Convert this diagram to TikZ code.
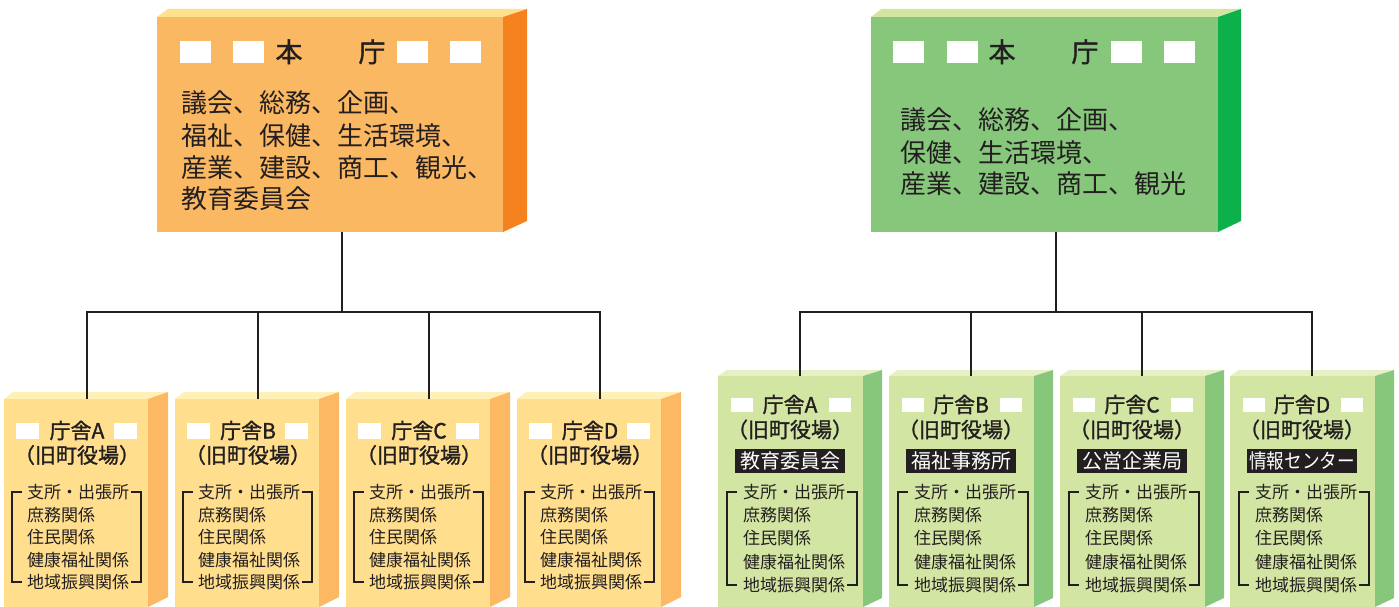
\documentclass[tikz,border=0pt]{standalone}
\usepackage{fontspec}
\usepackage{graphicx}
\setmainfont{Noto Sans CJK JP}
\newfontfamily\jpm{Noto Sans CJK JP}[FakeBold=1.3]
\definecolor{ink}{HTML}{231F20}
\definecolor{orF}{HTML}{FBB862}
\definecolor{orT}{HTML}{FFE08C}
\definecolor{orS}{HTML}{F5821F}
\definecolor{grF}{HTML}{86C77C}
\definecolor{grT}{HTML}{D6E4A2}
\definecolor{grS}{HTML}{0DB14B}
\definecolor{ylF}{HTML}{FFDE8E}
\definecolor{ylT}{HTML}{FFF0B5}
\definecolor{ylS}{HTML}{FDB864}
\definecolor{lgF}{HTML}{D3E5A3}
\definecolor{lgT}{HTML}{E6EFC6}
\definecolor{lgS}{HTML}{86C77C}
% #1 x, #2 y (front top-left), #3 w, #4 h, #5 side width, #6 rise, #7 front, #8 top, #9 side
\newcommand\blockbox[9]{%
  \fill[#8] (#1,#2) -- ({#1+0.45*#5},{#2-#6}) -- ({#1+#3+#5},{#2-#6}) -- ({#1+#3},#2) -- cycle;
  \fill[#9] ({#1+#3},#2) -- ({#1+#3+#5},{#2-#6}) -- ({#1+#3+#5},{#2+#4-#6-3}) -- ({#1+#3},{#2+#4}) -- cycle;
  \fill[#7] (#1,#2) rectangle ({#1+#3},{#2+#4});
}
\newcommand\lowL[3]{%
  \fill[white] ({#1+12},423) rectangle ({#1+35},439);
  \fill[white] ({#1+110},423) rectangle ({#1+133},439);
  \node[subttl] (#3t) at ({#1+73},438.5) {庁舎#2};
  \node[subttl] (#3s) at ({#1+73},463) {（旧町役場）};
  \foreach \t [count=\i] in {支所・出張所,庶務関係,住民関係,健康福祉関係,地域振興関係}
    \node[lst] (#3l\i) at ({#1+23},{498.5+(\i-1)*22.5}) {\t};
  \draw[brk] ({#1+18},492) -| ({#1+8},582) -- ({#1+18},582);
  \draw[brk] ({#1+127},492) -| ({#1+137},582) -- ({#1+127},582);
}
\newcommand\lowR[4]{%
  \fill[white] ({#1+13},398) rectangle ({#1+35},412);
  \fill[white] ({#1+111},398) rectangle ({#1+133},412);
  \node[subttl] (#3t) at ({#1+72},412.5) {庁舎#2};
  \node[subttl] (#3s) at ({#1+72},437.5) {（旧町役場）};
  \node[lbl] (#3b) at ({#1+72},461) {#4};
  \foreach \t [count=\i] in {支所・出張所,庶務関係,住民関係,健康福祉関係,地域振興関係}
    \node[lst] (#3l\i) at ({#1+25},{498.5+(\i-1)*23.2}) {\t};
  \draw[brk] ({#1+19},492) -| ({#1+9},585) -- ({#1+19},585);
  \draw[brk] ({#1+129},492) -| ({#1+139},585) -- ({#1+129},585);
}
\begin{document}
\begin{tikzpicture}[x=1pt,y=-1pt,
  conn/.style={line width=2pt, draw=ink},
  brk/.style={line width=1.5pt, draw=ink},
  area/.style={inner sep=0pt, outer sep=0pt, draw=none},
  hqtxt/.style={font=\fontsize{26}{32}\selectfont, text=ink, inner sep=0pt, anchor=base west},
  hqttl/.style={font=\jpm\fontsize{27}{32}\selectfont, text=ink, inner sep=0pt, anchor=base},
  subttl/.style={font=\jpm\fontsize{21}{24}\selectfont, text=ink, inner sep=0pt, anchor=base},
  lst/.style={font=\fontsize{17}{22}\selectfont, text=ink, inner sep=0pt, anchor=base west},
  lbl/.style={fill=ink, text=white, font=\fontsize{20}{22}\selectfont, minimum width=110pt, minimum height=24pt, inner sep=2pt},
]
\useasboundingbox (0,0) rectangle (1399,607);

% ---------- top boxes ----------
\blockbox{157}{17}{346}{215}{24}{8}{orF}{orT}{orS}
\node[area, anchor=south, minimum width=370pt, minimum height=215pt] (hqL) at (342,232) {};
\blockbox{871}{17}{347}{215}{23}{8}{grF}{grT}{grS}
\node[area, anchor=south, minimum width=370pt, minimum height=215pt] (hqR) at (1056,232) {};

% left HQ content
\foreach \x in {180,233,397,450} \fill[white] (\x,41) rectangle ({\x+31},63);
\node[hqttl] (hqLt1) at (289,62) {本};
\node[hqttl] (hqLt2) at (372,62) {庁};
\node[hqtxt] (hqL1) at (181,113) {議会、総務、企画、};
\node[hqtxt] (hqL2) at (181,145) {福祉、保健、生活環境、};
\node[hqtxt] (hqL3) at (181,177) {産業、建設、商工、観光、};
\node[hqtxt] (hqL4) at (181,208) {教育委員会};

% right HQ content
\foreach \x in {893,947,1111,1164} \fill[white] (\x,41) rectangle ({\x+31},63);
\node[hqttl] (hqRt1) at (1002,62) {本};
\node[hqttl] (hqRt2) at (1085,62) {庁};
\node[hqtxt] (hqR1) at (900,130) {議会、総務、企画、};
\node[hqtxt] (hqR2) at (900,162) {保健、生活環境、};
\node[hqtxt] (hqR3) at (900,193) {産業、建設、商工、観光};

% ---------- bottom left boxes ----------
\foreach \x/\n in {4/lA,175/lB,346/lC,517/lD}{
  \blockbox{\x}{399}{144}{208}{20}{7}{ylF}{ylT}{ylS}
  \node[area, anchor=north, minimum width=166pt, minimum height=208pt] (\n) at ({\x+83},399) {};
}
\lowL{4}{A}{la}
\lowL{175}{B}{lb}
\lowL{346}{C}{lc}
\lowL{517}{D}{ld}

% ---------- bottom right boxes ----------
\foreach \x/\n in {718/rA,889/rB,1060/rC,1230/rD}{
  \blockbox{\x}{376}{145}{231}{19}{6}{lgF}{lgT}{lgS}
  \node[area, anchor=north, minimum width=164pt, minimum height=231pt] (\n) at ({\x+82},376) {};
}
\lowR{718}{A}{ra}{教育委員会}
\lowR{889}{B}{rb}{福祉事務所}
\lowR{1060}{C}{rc}{公営企業局}
\lowR{1230}{D}{rd}{\scalebox{0.88}[1]{情報センター}}

% ---------- connectors ----------
\coordinate (jL) at (342,312);
\coordinate (jR) at (1056,312);
\draw[conn] (hqL.south) -- (jL);
\draw[conn] (lA.north) |- (lD.north |- jL) -- (lD.north);
\draw[conn] (lB.north |- jL) -- (lB.north);
\draw[conn] (lC.north |- jL) -- (lC.north);
\draw[conn] (hqR.south) -- (jR);
\draw[conn] (rA.north) |- (rD.north |- jR) -- (rD.north);
\draw[conn] (rB.north |- jR) -- (rB.north);
\draw[conn] (rC.north |- jR) -- (rC.north);
\end{tikzpicture}
\end{document}
